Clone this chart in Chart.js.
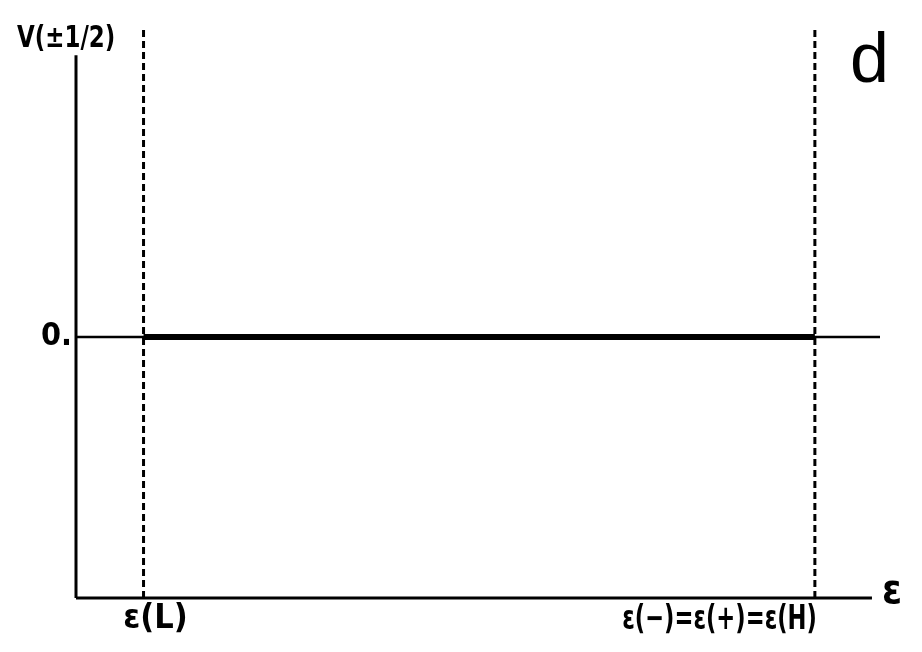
<!DOCTYPE html>
<html>
<head>
<meta charset="utf-8">
<script src="https://cdn.jsdelivr.net/npm/chart.js@4/dist/chart.umd.min.js"></script>
<style>
  html, body { margin: 0; padding: 0; background: #fff; }
  #wrap { width: 922px; height: 652px; }
</style>
</head>
<body>
<div id="wrap"><canvas id="chart" width="922" height="652"></canvas></div>
<script>
  // energy levels on the x axis (epsilon)
  const levelNames = ['ε(L)', 'ε(−)=ε(+)=ε(H)'];
  const levelX = [0.84, 9.19];
  // potential V(±1/2) is zero between the levels
  const potentialX = [0.84, 9.19];
  const potentialY = [0, 0];
  // axes extents
  const xRange = [0, 10];
  const yRange = [-1, 1.184];
  const xAxisEnd = 9.9;
  const yAxisTop = 1.08;
  const zeroLineX = [0, 10];
  const yTickLabels = ['0.'];
  const yTickValues = [0];

  const ink = '#000';

  const datasets = [
    { data: [{ x: 0, y: yRange[0] }, { x: 0, y: yAxisTop }], borderWidth: 3 },
    { data: [{ x: 0, y: yRange[0] }, { x: xAxisEnd, y: yRange[0] }], borderWidth: 3 },
    { data: zeroLineX.map(x => ({ x: x, y: 0 })), borderWidth: 2.5 },
    { data: potentialX.map((x, i) => ({ x: x, y: potentialY[i] })), borderWidth: 6 }
  ];
  levelX.forEach(x => {
    datasets.push({
      data: [{ x: x, y: yRange[0] }, { x: x, y: yRange[1] }],
      borderWidth: 3,
      borderDash: [7, 4]
    });
  });
  datasets.forEach(d => {
    d.borderColor = ink;
    d.pointRadius = 0;
    d.showLine = true;
    d.fill = false;
    d.clip = false;
  });

  // draws text squeezed horizontally, like the narrow hand lettering
  function narrowText(ctx, text, x, y, sx) {
    ctx.save();
    ctx.translate(x, y);
    ctx.scale(sx, 1);
    ctx.fillText(text, 0, 0);
    ctx.restore();
  }

  const labelsPlugin = {
    id: 'labels',
    afterDraw(chart) {
      const ctx = chart.ctx;
      const xs = chart.scales.x;
      const ys = chart.scales.y;
      ctx.save();
      ctx.fillStyle = ink;

      ctx.font = 'bold 30px "DejaVu Sans Condensed", "DejaVu Sans"';
      ctx.textAlign = 'left';
      ctx.textBaseline = 'alphabetic';
      narrowText(ctx, 'V(±1/2)', 17, 47, 0.85);

      ctx.font = '70px "Liberation Sans"';
      ctx.fillText('d', 850, 82);

      ctx.font = 'bold 32px "DejaVu Sans Condensed", "DejaVu Sans"';
      ctx.textAlign = 'right';
      ctx.textBaseline = 'middle';
      yTickValues.forEach((v, i) => {
        ctx.fillText(yTickLabels[i], xs.getPixelForValue(0) - 4, ys.getPixelForValue(v));
      });

      ctx.textBaseline = 'top';
      ctx.font = 'bold 34px "DejaVu Sans Condensed", "DejaVu Sans"';
      ctx.textAlign = 'center';
      ctx.fillText(levelNames[0], xs.getPixelForValue(levelX[0]) + 12, ys.getPixelForValue(yRange[0]) + 4);
      ctx.textAlign = 'right';
      narrowText(ctx, levelNames[1], xs.getPixelForValue(levelX[1]) + 2, ys.getPixelForValue(yRange[0]) + 5, 0.74);

      ctx.textAlign = 'left';
      ctx.textBaseline = 'alphabetic';
      ctx.font = 'bold 40px "DejaVu Sans Condensed", "DejaVu Sans"';
      ctx.fillText('ε', 882, 603);
      ctx.restore();
    }
  };

  new Chart(document.getElementById('chart').getContext('2d'), {
    type: 'scatter',
    data: { datasets: datasets },
    options: {
      responsive: false,
      animation: false,
      layout: { padding: { left: 76, right: 42, top: 28, bottom: 54 } },
      plugins: { legend: { display: false }, tooltip: { enabled: false } },
      scales: {
        x: { type: 'linear', display: false, min: xRange[0], max: xRange[1] },
        y: { type: 'linear', display: false, min: yRange[0], max: yRange[1] }
      }
    },
    plugins: [labelsPlugin]
  });
</script>
</body>
</html>
